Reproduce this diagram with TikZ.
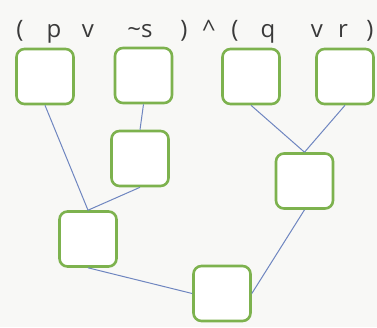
\documentclass[tikz,border=0pt]{standalone}
\usepackage{fontspec}
\setmainfont{Open Sans}
\definecolor{bg}{HTML}{F8F8F6}
\definecolor{boxgreen}{HTML}{7DB24E}
\definecolor{linkblue}{HTML}{6F86C0}
\definecolor{txt}{HTML}{3A3A3A}
\begin{document}
\begin{tikzpicture}[x=1pt,y=-1pt,
  gbox/.style={draw=boxgreen, line width=2.6pt, rounded corners=8pt, fill=white,
    minimum width=57pt, minimum height=55pt, inner sep=0pt},
  link/.style={draw=linkblue, line width=1pt},
  tok/.style={anchor=base, inner sep=0pt, text=txt, font=\fontsize{24}{28}\selectfont}]
\fill[bg] (0,0) rectangle (377,327);
\useasboundingbox (0,0) rectangle (377,327);
% formula tokens
\node[tok] (t1) at (20,37) {(};
\node[tok] (t2) at (54,37) {p};
\node[tok] (t3) at (88,37) {v};
\node[tok] (t4) at (140,37) {\char`\~s};
\node[tok] (t5) at (184,37) {)};
\node[tok] (t6) at (209,37) {\char`\^};
\node[tok] (t7) at (235,37) {(};
\node[tok] (t8) at (268,37) {q};
\node[tok] (t9) at (317,37) {v};
\node[tok] (t10) at (343,37) {r};
\node[tok] (t11) at (370,37) {)};
% boxes
\node[gbox] (b1) at (45,76.5) {};
\node[gbox] (b2) at (143.5,75.5) {};
\node[gbox] (b3) at (251,76.5) {};
\node[gbox] (b4) at (345,76.5) {};
\node[gbox] (b5) at (140,158.5) {};
\node[gbox] (b6) at (304.5,181) {};
\node[gbox] (b7) at (88,239) {};
\node[gbox] (b8) at (222,293.5) {};
% connectors
\draw[link] (b1.south) -- (b7.north);
\draw[link] (b2.south) -- (b5.north);
\draw[link] (b5.south) -- (b7.north);
\draw[link] (b3.south) -- (b6.north);
\draw[link] (b4.south) -- (b6.north);
\draw[link] (b6.south) -- (b8.east);
\draw[link] (b7.south) -- (b8.west);
\end{tikzpicture}
\end{document}
